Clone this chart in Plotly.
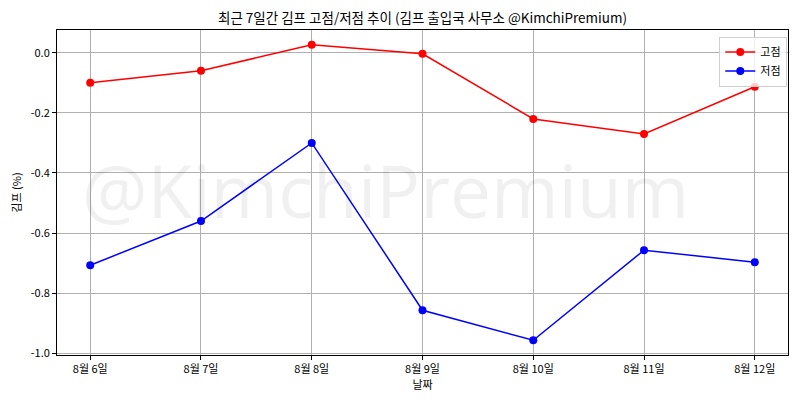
import plotly.graph_objects as go

# 최근 7일간 김프 고점/저점
dates = ["8월 6일", "8월 7일", "8월 8일", "8월 9일", "8월 10일", "8월 11일", "8월 12일"]
high_vals = [-0.10, -0.06, 0.027, -0.003, -0.22, -0.27, -0.113]
low_vals = [-0.707, -0.56, -0.30, -0.857, -0.957, -0.657, -0.697]
y_ticks = [0.0, -0.2, -0.4, -0.6, -0.8, -1.0]

font_kr = "Noto Sans CJK KR"
x_idx = list(range(len(dates)))

fig = go.Figure()
fig.add_trace(go.Scatter(
    x=x_idx, y=high_vals, mode="lines+markers", name="고점",
    line=dict(color="red", width=1.5), marker=dict(color="red", size=8)
))
fig.add_trace(go.Scatter(
    x=x_idx, y=low_vals, mode="lines+markers", name="저점",
    line=dict(color="blue", width=1.5), marker=dict(color="blue", size=8)
))

# watermark
fig.add_annotation(
    text="@KimchiPremium", x=0.45, y=0.51, xref="paper", yref="paper",
    showarrow=False, font=dict(family="Open Sans", size=73, color="rgba(0,0,0,0.06)")
)

axis_common = dict(
    showline=True, linecolor="black", linewidth=1, mirror=True,
    ticks="outside", ticklen=4, tickcolor="black", automargin=False,
    showgrid=True, gridcolor="#b0b0b0", gridwidth=1, zeroline=False,
    tickfont=dict(family=font_kr, size=11, color="black"),
)

fig.update_layout(
    width=800, height=400,
    margin=dict(l=49, r=20, t=22, b=53),
    paper_bgcolor="white", plot_bgcolor="white",
    title=dict(text="최근 7일간 김프 고점/저점 추이 (김프 출입국 사무소 @KimchiPremium)",
               xref="paper", x=0.5, xanchor="center", y=0.975, yanchor="middle",
               font=dict(family=font_kr, size=13.5, color="black")),
    xaxis=dict(axis_common, range=[-0.3, 6.3], tickvals=x_idx, ticktext=dates,
               title=dict(text="날짜", standoff=4, font=dict(family=font_kr, size=11, color="black"))),
    yaxis=dict(axis_common, range=[-1.006, 0.076], tickvals=y_ticks,
               ticktext=[f"{v:.1f}" for v in y_ticks],
               title=dict(text="김프 (%)", standoff=6, font=dict(family=font_kr, size=11, color="black"))),
    legend=dict(x=0.999, y=0.98, xanchor="right", yanchor="top",
                bgcolor="rgba(255,255,255,0.8)", bordercolor="#d0d0d0", borderwidth=1,
                font=dict(family=font_kr, size=11, color="black"),
                tracegroupgap=0, itemwidth=30),
    showlegend=True,
)

fig.write_html("out.html")
